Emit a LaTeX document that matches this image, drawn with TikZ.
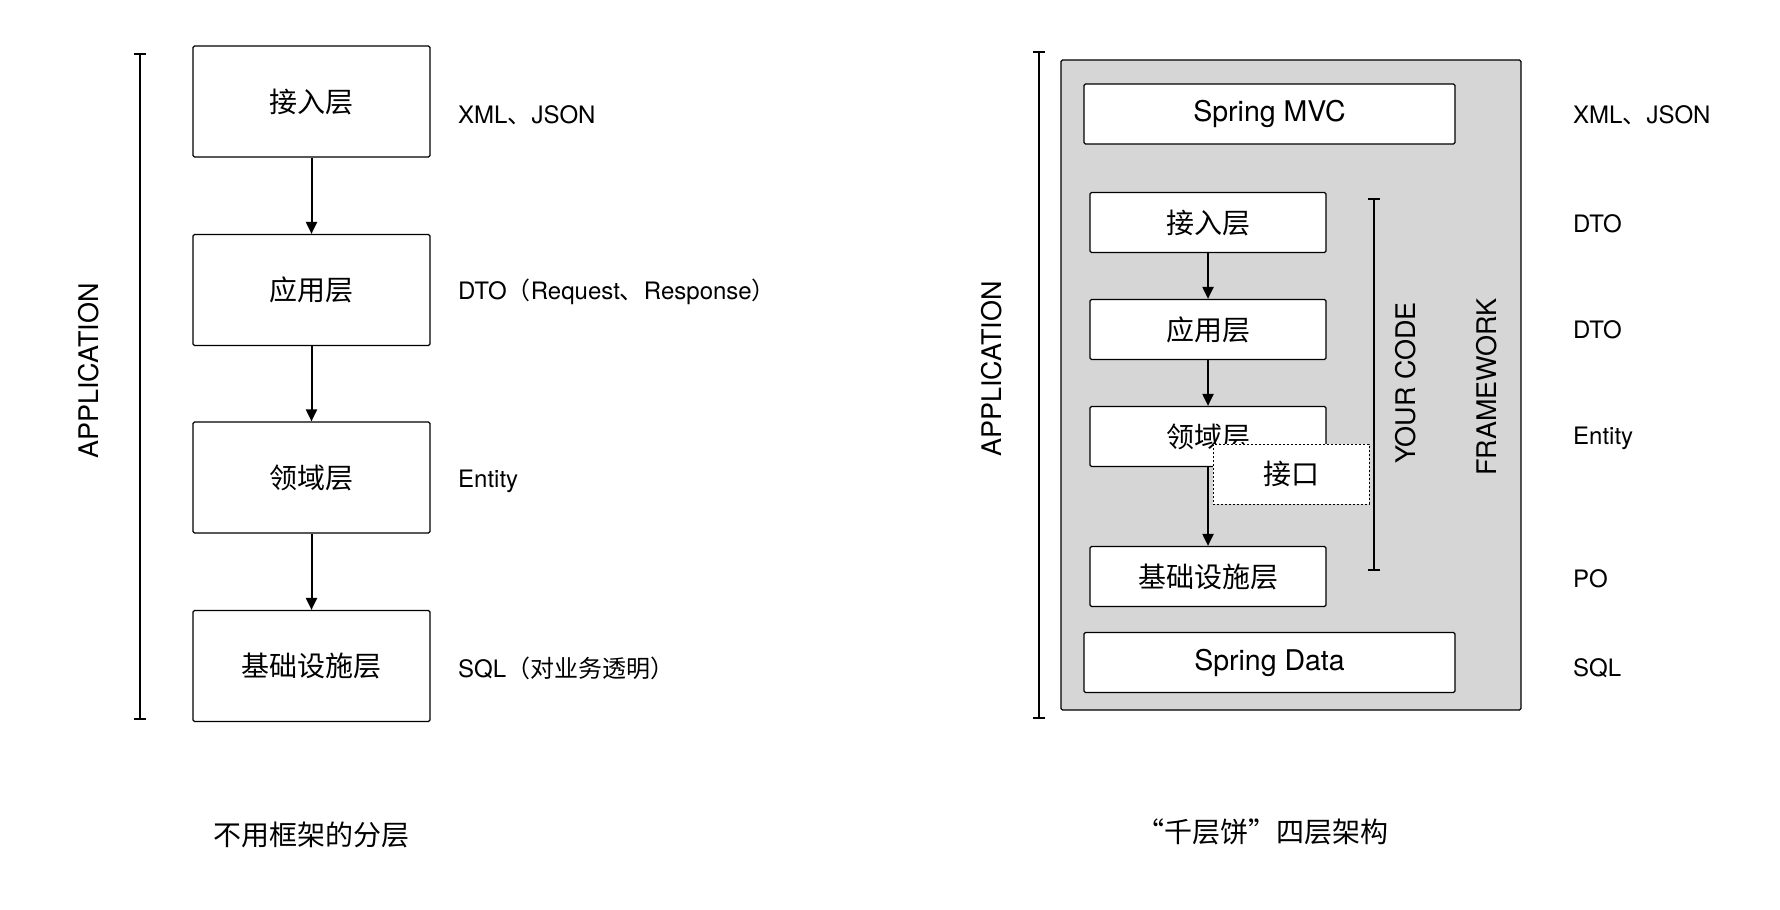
\documentclass[tikz,border=0pt]{standalone}
\usepackage{fontspec}
\setmainfont{TeX Gyre Heros}
\newfontfamily\cjk{Noto Sans CJK SC}
\usepackage{xcolor}
\usetikzlibrary{arrows.meta,positioning}

\definecolor{framegray}{RGB}{214,214,214}

\begin{document}
\begin{tikzpicture}[
    x=1pt,
    y=-1pt,
    layer/.style={draw, line width=1.2pt, rounded corners=1.5pt, fill=white, inner sep=0pt, font=\fontsize{28}{32}\selectfont\cjk},
    bigbox/.style={layer, minimum width=237pt, minimum height=111pt},
    smallbox/.style={layer, minimum width=236pt, minimum height=60pt},
    widebox/.style={layer, minimum width=371pt, minimum height=60pt, font=\fontsize{28.5}{32}\selectfont},
    note/.style={anchor=west, inner sep=0pt, font=\fontsize{24}{28}\selectfont},
    flow/.style={-{Triangle[length=12pt,width=11pt]}, line width=2pt},
    span/.style={{Bar[width=12pt]}-{Bar[width=12pt]}, line width=2.2pt},
    side/.style={rotate=90, inner sep=0pt, font=\fontsize{27}{31}\selectfont},
    caption/.style={inner sep=0pt, font=\fontsize{28}{32}\selectfont\cjk}
]
    \useasboundingbox (0,0) rectangle (1780,910);

    % Left: layers without a framework
    \coordinate (appTopL) at (140,53);
    \coordinate (appBotL) at (140,720);
    \draw[span] (appTopL) -- (appBotL);
    \node[side] (appL) at (89,371) {APPLICATION};

    \node[bigbox] (L1) at (311.5,101.5) {接入层};
    \node[bigbox] (L2) at (311.5,290)   {应用层};
    \node[bigbox] (L3) at (311.5,477.5) {领域层};
    \node[bigbox] (L4) at (311.5,666)   {基础设施层};

    \foreach \a/\b in {L1/L2, L2/L3, L3/L4}
        \draw[flow] (\a) -- (\b);

    \node[note] (nL1) at (458,115) {XML{\cjk 、}JSON};
    \node[note] (nL2) at (458,292) {DTO{\cjk （}Request{\cjk 、}Response{\cjk ）}};
    \node[note] (nL3) at (458,481) {Entity};
    \node[note] (nL4) at (458,668) {SQL{\cjk （对业务透明）}};

    \node[caption] (capL) at (311,835) {不用框架的分层};

    % Right: the four layers inside the framework
    \coordinate (appTopR) at (1039,51);
    \coordinate (appBotR) at (1039,719);
    \draw[span] (appTopR) -- (appBotR);
    \node[side] (appR) at (992,369) {APPLICATION};

    \node[draw, line width=1.2pt, rounded corners=1.5pt, fill=framegray,
          minimum width=460pt, minimum height=650pt] (fw) at (1291,385) {};

    \node[widebox] (mvc)  at (1269.5,114) {Spring MVC};
    \node[smallbox] (R1) at (1208,222.5) {接入层};
    \node[smallbox] (R2) at (1208,329.5) {应用层};
    \node[smallbox] (R3) at (1208,436.5) {领域层};
    \node[layer, dash pattern=on 2pt off 2pt, line width=1pt, rounded corners=0pt,
          minimum width=156pt, minimum height=60pt] (port) at (1291,474) {接口};
    \node[smallbox] (R4) at (1208,576.5) {基础设施层};
    \node[widebox] (data) at (1269.5,662.5) {Spring Data};

    \foreach \a/\b in {R1/R2, R2/R3, R3/R4}
        \draw[flow] (\a) -- (\b);

    % Your code bracket and labels
    \coordinate (codeTop) at (1374,198);
    \coordinate (codeBot) at (1374,571);
    \draw[span] (codeTop) -- (codeBot);
    \node[side] (code) at (1406,383) {YOUR CODE};
    \node[side] (frame) at (1487,387) {FRAMEWORK};

    \node[note] (nR1) at (1573,115)   {XML{\cjk 、}JSON};
    \node[note] (nR2) at (1573,223.5) {DTO};
    \node[note] (nR3) at (1573,330)   {DTO};
    \node[note] (nR4) at (1573,438)   {Entity};
    \node[note] (nR5) at (1573,579)   {PO};
    \node[note] (nR6) at (1573,668)   {SQL};

    \node[caption] (capR) at (1262,832) {“千层饼”四层架构};
\end{tikzpicture}
\end{document}
